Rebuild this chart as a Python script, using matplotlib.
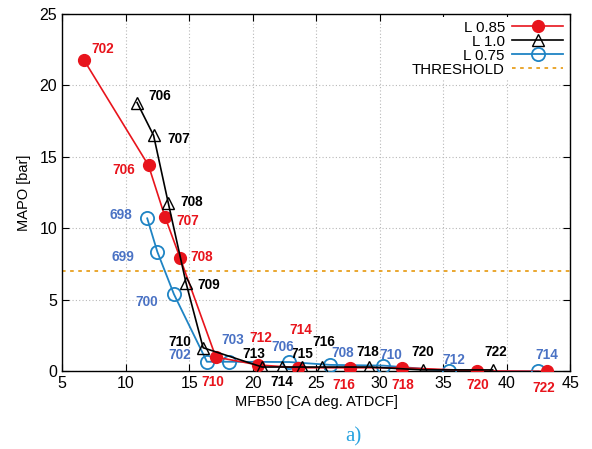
import numpy as np
import matplotlib.pyplot as plt

# L 0.85 series
red_x = [6.7, 11.8, 13.1, 14.3, 17.1, 20.4, 23.6, 27.7, 31.8, 37.7, 43.2]
red_y = [21.8, 14.4, 10.8, 7.9, 1.0, 0.45, 0.25, 0.25, 0.25, 0.03, 0.0]
red_lab = ['702', '706', '707', '708', '710', '712', '714', '716', '718', '720', '722']

# L 1.0 series
blk_x = [10.9, 12.2, 13.35, 14.75, 16.1, 20.75, 22.3, 23.9, 25.5, 29.2, 33.4, 38.9]
blk_y = [18.8, 16.5, 11.8, 6.2, 1.65, 0.3, 0.3, 0.3, 0.3, 0.3, 0.1, 0.1]
blk_lab = ['706', '707', '708', '709', '710', '713', '714', '715', '716', '718', '720', '722']

# L 0.75 series
blu_x = [11.7, 12.5, 13.8, 16.4, 18.1, 22.9, 26.1, 30.3, 35.5, 42.5]
blu_y = [10.7, 8.35, 5.4, 0.67, 0.67, 0.65, 0.45, 0.4, 0.03, 0.0]
blu_lab = ['698', '699', '700', '702', '703', '706', '708', '710', '712', '714']

threshold = 7.0

# label offsets in pixels (layout only)
red_off = [(19, 11), (-25, -5), (23, -4), (21, 1), (-3, -25), (3, 27), (2, 38),
           (-7, -17), (0, -17), (0, -14), (-4, -17)]
blk_off = [(23, 7), (25, -4), (23, 1), (23, -2), (-23, 6), (-8, 13), (0, -15),
           (0, 13), (1, 25), (-2, 15), (0, 18), (3, 18)]
blu_off = [(-26, 3), (-34, -5), (-27, -8), (-27, 7), (4, 22), (-7, 15), (13, 12),
           (7, 11), (4, 11), (8, 16)]

plt.rcParams['font.family'] = ['Liberation Sans', 'DejaVu Sans']

RED = '#e8141c'
BLUE = '#1f84c4'
BLUE_TXT = '#4a72c4'

fig = plt.figure(figsize=(5.92, 4.49), dpi=100)
ax = fig.add_axes([0.105, 0.173, 0.858, 0.796])

ax.plot(red_x, red_y, '-o', color=RED, ms=8.5, lw=1.2, label='L 0.85', zorder=4)
ax.plot(blk_x, blk_y, '-^', color='black', mfc='none', ms=8.5, mew=1.0, lw=1.2,
        label='L 1.0', zorder=5)
ax.plot(blu_x, blu_y, '-o', color=BLUE, mfc='none', ms=9.5, mew=1.3, lw=1.3,
        label='L 0.75', zorder=3)
ax.axhline(threshold, color='#e8a020', ls=(0, (2, 2.5)), lw=1.3,
           label='THRESHOLD', zorder=2)

for xs, ys, labs, offs, col in [(red_x, red_y, red_lab, red_off, RED),
                                (blk_x, blk_y, blk_lab, blk_off, 'black'),
                                (blu_x, blu_y, blu_lab, blu_off, BLUE_TXT)]:
    for x, y, t, o in zip(xs, ys, labs, offs):
        ax.annotate(t, (x, y), xytext=o, textcoords='offset pixels',
                    ha='center', va='center', color=col, fontsize=9.8,
                    fontweight='bold', zorder=6, annotation_clip=False)

ax.set_xlim(5, 45)
ax.set_ylim(0, 25)
ax.set_xticks(np.arange(5, 46, 5))
ax.set_yticks(np.arange(0, 26, 5))
ax.tick_params(direction='in', top=True, right=True, labelsize=11.5, length=5)
ax.grid(True, color='#b8b8b8', ls=(0, (1, 2)), lw=0.8)
ax.set_axisbelow(True)
for s in ax.spines.values():
    s.set_linewidth(1.0)

ax.set_xlabel('MFB50 [CA deg. ATDCF]', fontsize=10.5, labelpad=3)
ax.set_ylabel('MAPO [bar]', fontsize=10.5, labelpad=6)

leg = ax.legend(loc='upper right', markerfirst=False, fontsize=10.8,
                frameon=True, fancybox=False, framealpha=1, edgecolor='none',
                borderpad=0.25, labelspacing=0.0, handlelength=3.4,
                handletextpad=0.5, borderaxespad=0.2)
for t in leg.get_texts():
    t.set_ha('right')
leg._legend_box.align = 'right'

fig.text(353 / 592, 1 - 437 / 449, 'a)', color='#29a3e0', fontsize=15,
         family=['Liberation Serif', 'DejaVu Serif'], ha='center', va='center')

fig.savefig('out.png', dpi=100)
